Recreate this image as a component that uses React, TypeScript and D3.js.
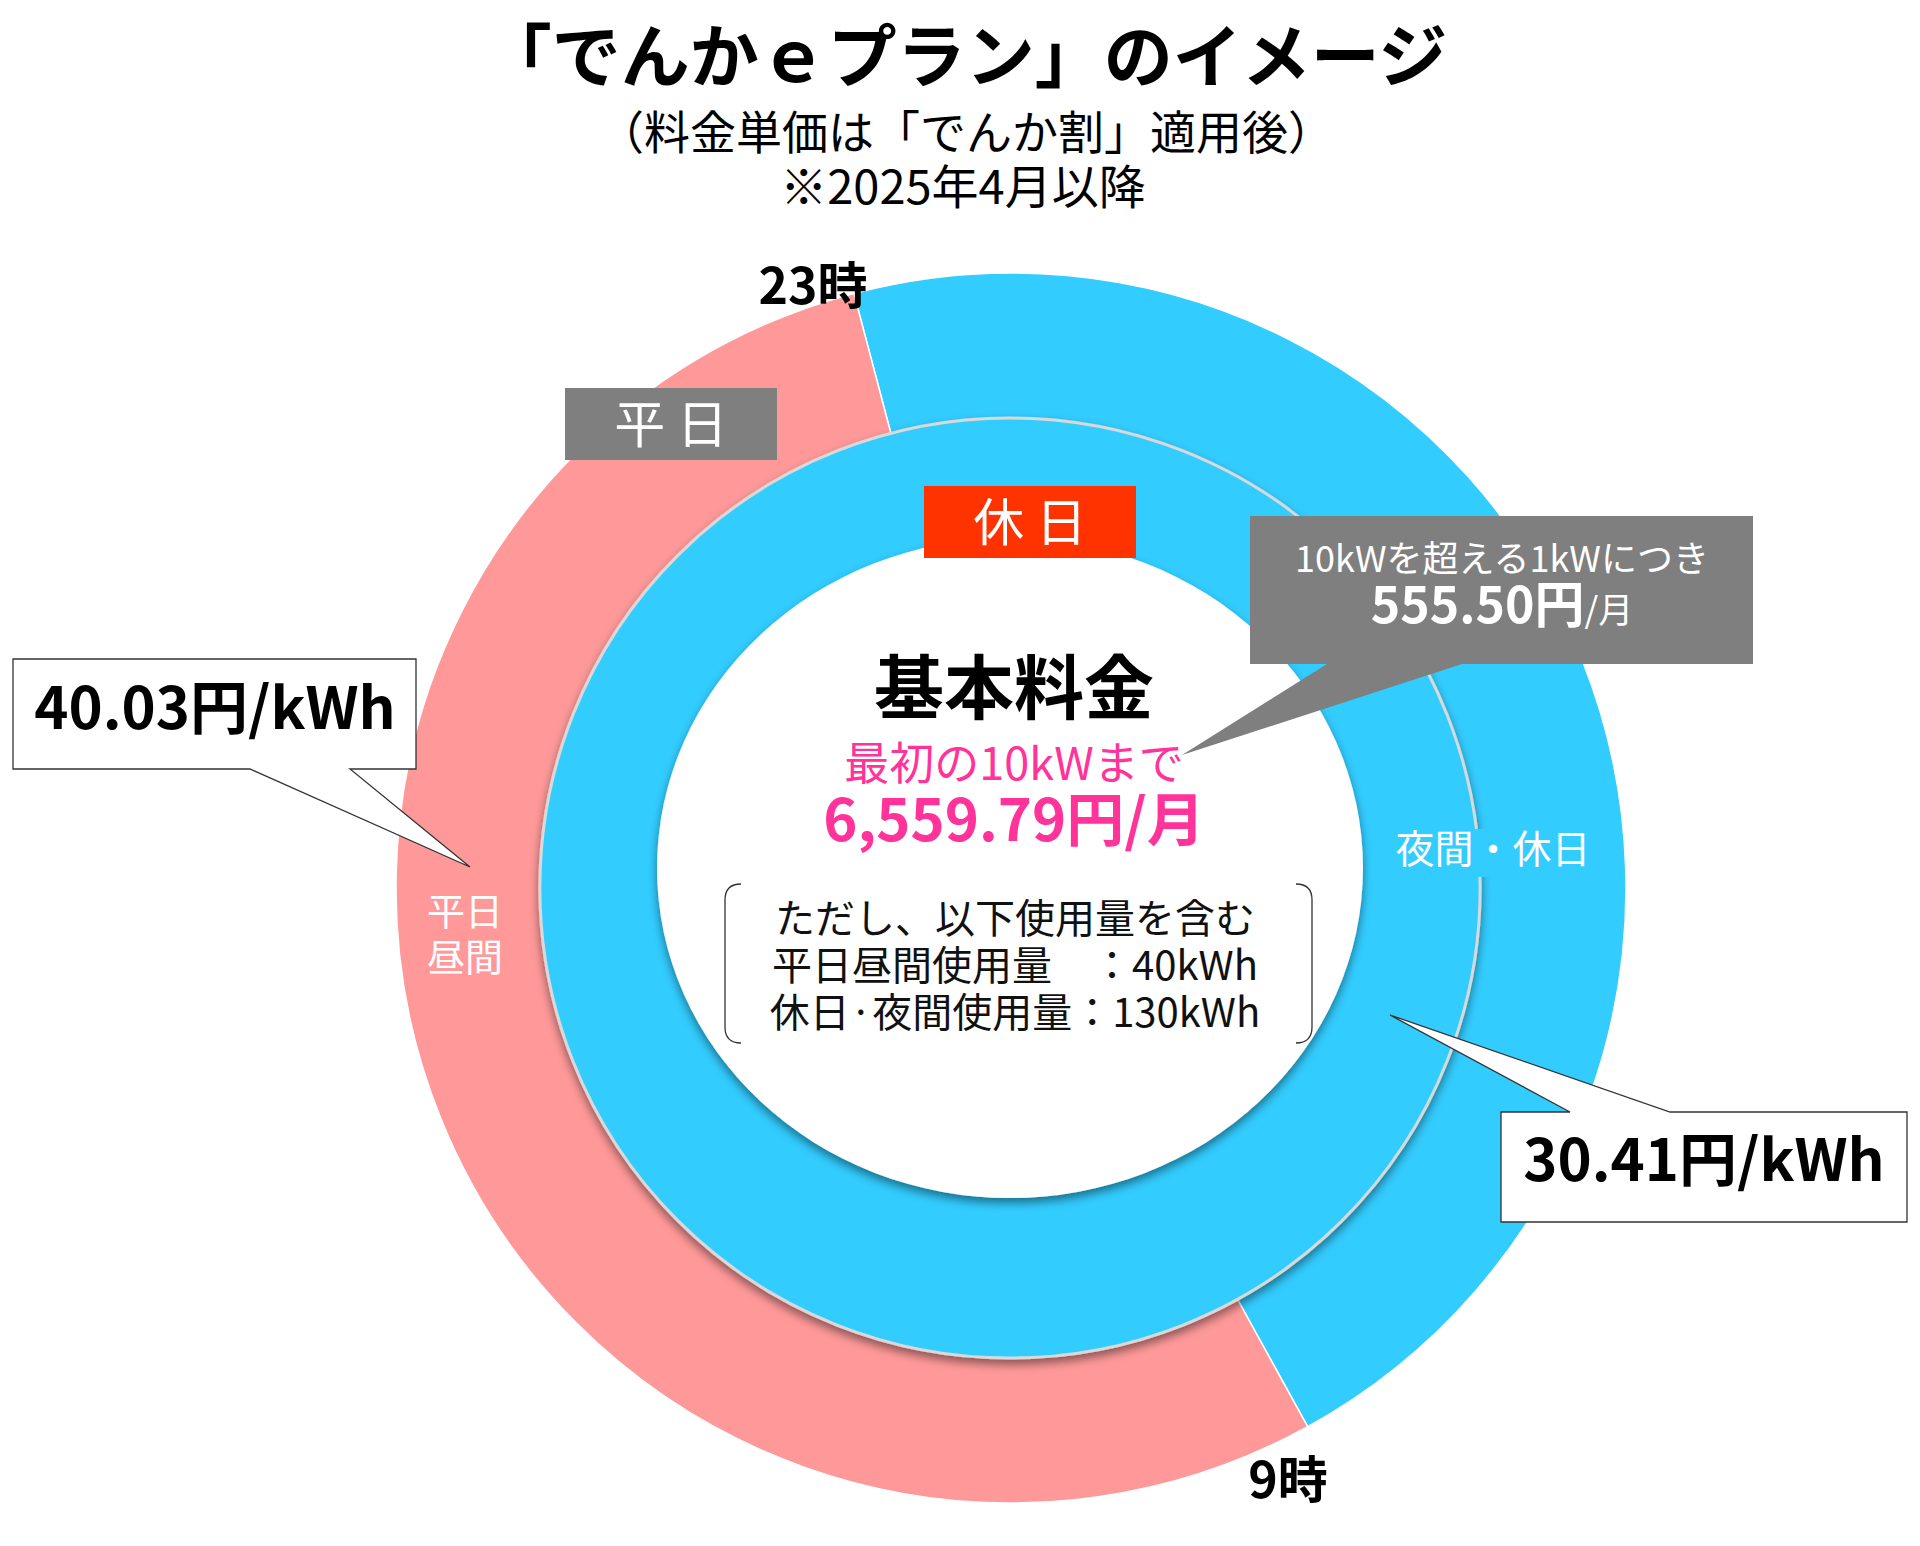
import React from "react";
import * as d3 from "d3";

const FONT = '"Noto Sans CJK JP", "Noto Sans", sans-serif';

// ---- data ----
const titleLines = ["「でんかｅプラン」のイメージ", "（料金単価は「でんか割」適用後）", "※2025年4月以降"];
const outerCategories = ["夜間・休日", "平日昼間"];
const outerShares = [46.1, 53.9];
const outerColors = ["#33CCFF", "#FF9999"];
const innerCategories = ["休日"];
const innerShares = [100];
const innerColors = ["#33CCFF"];
const ringTags = ["平 日", "休 日"];
const hourLabels = ["23時", "9時"];
const rateLabels = ["40.03円/kWh", "30.41円/kWh"];
const segmentLabels = ["平日", "昼間", "夜間・休日"];
const baseFeeLines = ["基本料金", "最初の10kWまで", "6,559.79円/月"];
const includedLines = ["ただし、以下使用量を含む", "平日昼間使用量　：40kWh", "休日·夜間使用量：130kWh"];
const extraFeeParts = ["10kWを超える1kWにつき", "555.50円", "/月"];

const W = 1920;
const H = 1546;
const deg = Math.PI / 180;

export default function App() {
  const cx = 1011;
  const cy = 888;
  const start = -14.8 * deg;

  const outerPie = d3
    .pie<number>()
    .sort(null)
    .startAngle(start)
    .endAngle(start + 2 * Math.PI)(outerShares);
  const outerArc = d3.arc<d3.PieArcDatum<number>>().innerRadius(0).outerRadius(615);

  const innerPie = d3.pie<number>().sort(null)(innerShares);
  const innerArc = d3.arc<d3.PieArcDatum<number>>().innerRadius(0).outerRadius(470);

  return (
    <svg
      width={W}
      height={H}
      viewBox={`0 0 ${W} ${H}`}
      style={{ position: "absolute", left: 0, top: 0, background: "#fff" }}
      fontFamily={FONT}
    >
      <defs>
        <filter id="shadow" x="-20%" y="-20%" width="140%" height="140%">
          <feDropShadow dx="0" dy="5" stdDeviation="5" floodColor="#000" floodOpacity="0.45" />
        </filter>
      </defs>
      <rect x={0} y={0} width={W} height={H} fill="#fff" />

      {/* titles */}
      <text x={965} y={82} fontSize={69} fontWeight="bold" textAnchor="middle" fill="#000">
        {titleLines[0]}
      </text>
      <text x={966} y={149} fontSize={46} textAnchor="middle" fill="#000">
        {titleLines[1]}
      </text>
      <text x={963} y={204} fontSize={47} textAnchor="middle" fill="#000">
        {titleLines[2]}
      </text>

      {/* outer ring */}
      <g transform={`translate(${cx},${cy})`}>
        {outerPie.map((d, i) => (
          <path key={outerCategories[i]} d={outerArc(d) || ""} fill={outerColors[i]} stroke="#fff" strokeWidth={1.5} />
        ))}
      </g>

      {/* inner ring */}
      <g transform={`translate(${cx - 1},${cy})`} filter="url(#shadow)">
        {innerPie.map((d, i) => (
          <path key={innerCategories[i]} d={innerArc(d) || ""} fill={innerColors[i]} stroke="#D9D9D9" strokeWidth={3} />
        ))}
      </g>
      <ellipse cx={1010} cy={868} rx={353} ry={330} fill="#fff" filter="url(#shadow)" />

      {/* hour labels */}
      <text x={813} y={304} fontSize={50} fontWeight="bold" textAnchor="middle" fill="#000">
        {hourLabels[0]}
      </text>
      <text x={1288} y={1498} fontSize={50} fontWeight="bold" textAnchor="middle" fill="#000">
        {hourLabels[1]}
      </text>

      {/* ring tags */}
      <rect x={565} y={388} width={212} height={72} fill="#7F7F7F" />
      <text x={671} y={443} fontSize={51} textAnchor="middle" fill="#fff">
        {ringTags[0]}
      </text>
      <rect x={924} y={486} width={212} height={72} fill="#FF3300" />
      <text x={1030} y={541} fontSize={51} textAnchor="middle" fill="#fff">
        {ringTags[1]}
      </text>

      {/* segment labels */}
      <text x={465} y={925} fontSize={38} textAnchor="middle" fill="#fff">
        <tspan x={465}>{segmentLabels[0]}</tspan>
        <tspan x={465} dy={46}>
          {segmentLabels[1]}
        </tspan>
      </text>
      <rect x={1388} y={829} width={210} height={48} fill="#33CCFF" />
      <text x={1493} y={863} fontSize={39} textAnchor="middle" fill="#fff">
        {segmentLabels[2]}
      </text>

      {/* center texts */}
      <text textAnchor="middle" x={1014} y={714}>
        <tspan x={1014} fontSize={70} fontWeight="bold" fill="#000">
          {baseFeeLines[0]}
        </tspan>
        <tspan x={1014} dy={66} fontSize={45} fill="#FF3399">
          {baseFeeLines[1]}
        </tspan>
        <tspan x={1014} dy={61} fontSize={58} fontWeight="bold" fill="#FF3399">
          {baseFeeLines[2]}
        </tspan>
      </text>

      <path d="M741,884 Q725,884 725,900 V1027 Q725,1043 741,1043" fill="none" stroke="#333" strokeWidth={1.3} />
      <path d="M1296,884 Q1312,884 1312,900 V1027 Q1312,1043 1296,1043" fill="none" stroke="#333" strokeWidth={1.3} />
      <text x={1015} y={933} fontSize={40} textAnchor="middle" fill="#111">
        {includedLines.map((t, i) => (
          <tspan key={t} x={1015} dy={i === 0 ? 0 : 47}>
            {t}
          </tspan>
        ))}
      </text>

      {/* grey callout */}
      <path d="M1250,516 H1753 V664 H1462 L1182,755 L1327,664 H1250 Z" fill="#7F7F7F" />
      <text x={1502} y={572} textAnchor="middle" fill="#fff">
        <tspan x={1502} fontSize={36}>
          {extraFeeParts[0]}
        </tspan>
        <tspan x={1502} dy={51} fontSize={50} fontWeight="bold">
          {extraFeeParts[1]}
        </tspan>
        <tspan fontSize={35}>{extraFeeParts[2]}</tspan>
      </text>

      {/* rate callouts */}
      <path d="M13,659 H416 V769 H350 L470,867 L250,769 H13 Z" fill="#fff" stroke="#333" strokeWidth={1.3} />
      <text x={215} y={729} fontSize={58} fontWeight="bold" textAnchor="middle" fill="#000">
        {rateLabels[0]}
      </text>
      <path d="M1501,1112 H1570 L1390,1015 L1670,1112 H1907 V1222 H1501 Z" fill="#fff" stroke="#333" strokeWidth={1.3} />
      <text x={1704} y={1181} fontSize={58} fontWeight="bold" textAnchor="middle" fill="#000">
        {rateLabels[1]}
      </text>
    </svg>
  );
}
